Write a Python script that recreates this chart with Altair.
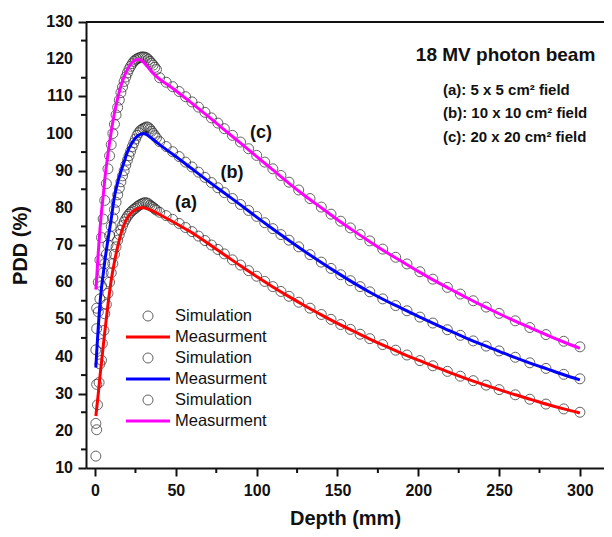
import altair as alt
import pandas as pd

# ---------------- data ----------------
series_keys = ["a", "b", "c"]
series_colors = ["#ff0000", "#0000ff", "#ff00ff"]

# Measurement curves
meas_depth_a = [0.5, 1, 2, 3, 4, 5, 6, 8, 10, 12, 14, 16, 18, 20, 22, 25, 28, 30, 32, 35, 40, 50, 60, 70, 80, 90, 100,
                110, 120, 130, 140, 150, 160, 170, 180, 190, 200, 210, 220, 230, 240, 250, 260, 270, 280, 290, 300]
meas_pdd_a = [24, 26, 30, 34.5, 38.5, 42.5, 46.5, 54, 60.5, 65.5, 69.5, 73, 75.5, 77.3, 78.5, 79.5, 80, 80, 79.8, 79.3,
              78.2, 75.8, 73.3, 70.4, 67.4, 64.4, 61.5, 58.7, 56.1, 53.6, 51.2, 48.9, 46.8, 44.7, 42.7, 40.8, 39.0,
              37.3, 35.6, 34.0, 32.5, 31.1, 29.7, 28.4, 27.1, 25.9, 24.8]

meas_depth_b = [0.5, 1, 2, 3, 4, 5, 6, 8, 10, 12, 14, 16, 18, 20, 22, 24, 26, 28, 30, 35, 40, 45, 50, 60, 70, 80, 90, 100,
                110, 120, 130, 140, 150, 160, 170, 180, 190, 200, 210, 220, 230, 240, 250, 260, 270, 280, 290, 300]
meas_pdd_b = [37, 41, 48, 54, 58.5, 62, 65.5, 71.5, 77, 83, 86.8, 89.8, 92.4, 95, 96.8, 98.2, 99.2, 99.8, 100, 98.7,
              97.0, 95.4, 93.8, 90.5, 87.2, 84.0, 80.8, 77.5, 74.3, 71.2, 68.2, 65.3, 62.5, 59.8, 57.3, 55.0, 52.9,
              50.8, 48.8, 46.8, 44.9, 43.1, 41.4, 39.7, 38.1, 36.6, 35.1, 33.7]

meas_depth_c = [0.5, 1, 2, 3, 4, 5, 6, 8, 10, 12, 14, 16, 18, 20, 22, 24, 26, 28, 30, 32, 35, 40, 45, 50, 60, 70, 80, 90,
                100, 110, 120, 130, 140, 150, 160, 170, 180, 190, 200, 210, 220, 230, 240, 250, 260, 270, 280, 290, 300]
meas_pdd_c = [58, 61, 68, 74, 79, 83, 87.5, 94.5, 100.5, 105.5, 109.5, 112.8, 115.3, 117.2, 118.6, 119.5, 119.9, 119.8,
              119.2, 118.2, 116.6, 114.6, 113.1, 111.5, 108.1, 104.6, 101.0, 97.4, 93.8, 90.2, 86.6, 83.2, 80.0, 76.8,
              73.8, 70.9, 68.1, 65.5, 62.9, 60.4, 58.1, 55.8, 53.6, 51.5, 49.5, 47.6, 45.7, 43.9, 42.2]

# Simulation points
tail_depth = [40, 44, 48, 52, 56, 60, 64, 68, 72, 76, 80, 85, 90, 95, 100, 105, 110, 115, 120, 126, 133, 140, 146, 152,
              158, 164, 170, 178, 186, 193, 201, 209, 218, 226, 234, 242, 250, 260, 269, 279, 290, 300]

sim_depth_a = [0.5, 0.5, 1, 1.5, 1, 2.5, 3, 4, 4.5, 5.5, 6, 7, 8, 9, 10, 11, 12, 13, 14, 15, 16, 17, 18, 19, 20, 21, 22,
               23, 24, 25, 26, 27, 28, 29, 30, 31, 32, 33, 34, 35, 36, 37, 38] + tail_depth
sim_pdd_a = [13.2, 22, 20.3, 27, 32.5, 33, 38, 39, 43.5, 47, 51.5, 54, 57, 60, 62.5, 65, 67.5, 69.5, 71.3, 72.8, 74,
             75.2, 76.2, 77, 77.7, 78.3, 78.8, 79.2, 79.6, 79.9, 80.3, 80.6, 80.9, 81.1, 81.3, 81.4, 81.3, 81.1, 80.7,
             80.4, 80.1, 79.7, 79.4,
             78.8, 77.9, 76.9, 75.8, 74.7, 73.6, 72.4, 71.2, 70.0, 68.8, 67.6, 66.0, 64.6, 63.1, 61.6, 60.2, 58.8,
             57.5, 56.2, 54.6, 53.0, 51.3, 50.0, 48.6, 47.3, 46.0, 44.8, 43.2, 41.7, 40.4, 38.9, 37.5, 36.0, 34.7,
             33.5, 32.3, 31.1, 29.7, 28.5, 27.2, 25.9, 25.0]

sim_depth_b = [0.5, 1, 2, 3, 4, 5, 6, 7, 8, 9, 10, 11, 12, 13, 14, 15, 16, 17, 18, 19, 20, 21, 22, 23, 24, 25, 26, 27,
               28, 29, 30, 31, 32, 33, 34, 35, 36, 37, 38] + tail_depth
sim_pdd_b = [41.8, 47.5, 52, 55.5, 59, 62.5, 65, 67.5, 70, 72.5, 75, 77.3, 79.5, 81.5, 83.5, 85.3, 87, 88.6, 90, 91.5,
             92.8, 94, 95.2, 96.4, 97.5, 98.5, 99.5, 100.2, 100.8, 101.1, 101.4, 101.6, 101.8, 101.6, 101.2, 100.6,
             100, 99.4, 98.8,
             97.8, 96.5, 95.1, 93.8, 92.3, 91.0, 89.6, 88.2, 86.8, 85.4, 84.1, 82.5, 80.9, 79.3, 77.7, 76.0, 74.4,
             72.8, 71.3, 69.5, 67.4, 65.4, 63.7, 62.0, 60.4, 58.8, 57.4, 55.5, 53.7, 52.3, 50.6, 49.0, 47.2, 45.7,
             44.2, 42.8, 41.5, 39.8, 38.3, 36.8, 35.2, 34.0]

sim_depth_c = [1, 2, 3, 4, 5, 6, 7, 8, 9, 10, 11, 12, 13, 14, 15, 16, 17, 18, 19, 20, 21, 22, 23, 24, 25, 26, 27, 28,
               29, 30, 31, 32, 33, 34, 35, 36, 37, 38] + tail_depth
sim_pdd_c = [53, 60, 66, 72, 77, 82, 86.5, 90.5, 94, 97, 100, 102.5, 105, 107, 109, 111, 112.5, 114, 115.2, 116.3,
             117.3, 118.1, 118.8, 119.4, 119.8, 120.1, 120.3, 120.5, 120.6, 120.6, 120.5, 120.3, 119.9, 119.4, 118.9,
             118.4, 117.8, 117.2,
             115.0, 113.8, 112.6, 111.3, 109.9, 108.5, 107.1, 105.7, 104.2, 102.8, 101.3, 99.5, 97.7, 95.9, 94.1,
             92.3, 90.5, 88.7, 86.9, 84.8, 82.5, 80.2, 78.3, 76.4, 74.6, 72.8, 71.1, 68.9, 66.7, 64.9, 62.8, 60.8,
             58.6, 56.8, 55.0, 53.3, 51.6, 49.6, 47.8, 45.9, 44.1, 42.6]

# Axis ticks
x_major_ticks = [0, 50, 100, 150, 200, 250, 300]
x_minor_ticks = [25, 75, 125, 175, 225, 275]
y_major_ticks = [10, 20, 30, 40, 50, 60, 70, 80, 90, 100, 110, 120, 130]
y_minor_ticks = [15, 25, 35, 45, 55, 65, 75, 85, 95, 105, 115, 125]

# Annotations
curve_tags = ["(a)", "(b)", "(c)"]
curve_tag_x = [56.3, 84.7, 102.7]
curve_tag_y = [81.3, 89.4, 100.1]

beam_title = "18 MV photon beam"
beam_title_x = 254
beam_title_y = 121.1
field_lines = ["(a): 5 x 5 cm\u00b2 field", "(b): 10 x 10 cm\u00b2 field", "(c): 20 x 20 cm\u00b2 field"]
field_x = [215.3, 215.3, 215.3]
field_y = [111.7, 105.5, 99.1]

legend_labels = ["Simulation", "Measurment", "Simulation", "Measurment", "Simulation", "Measurment"]
legend_kinds = ["sim", "line", "sim", "line", "sim", "line"]
legend_colors = ["#222222", "#ff0000", "#222222", "#0000ff", "#222222", "#ff00ff"]

# ---------------- frames ----------------
meas_df = pd.concat([
    pd.DataFrame({"depth": d, "pdd": p, "series": k})
    for d, p, k in [(meas_depth_a, meas_pdd_a, "a"), (meas_depth_b, meas_pdd_b, "b"), (meas_depth_c, meas_pdd_c, "c")]
], ignore_index=True)
sim_df = pd.concat([
    pd.DataFrame({"depth": d, "pdd": p, "series": k})
    for d, p, k in [(sim_depth_a, sim_pdd_a, "a"), (sim_depth_b, sim_pdd_b, "b"), (sim_depth_c, sim_pdd_c, "c")]
], ignore_index=True)
tags_df = pd.DataFrame({"depth": curve_tag_x, "pdd": curve_tag_y, "t": curve_tags})
title_df = pd.DataFrame({"depth": [beam_title_x], "pdd": [beam_title_y], "t": [beam_title]})
field_df = pd.DataFrame({"depth": field_x, "pdd": field_y, "t": field_lines})
xminor_df = pd.DataFrame({"depth": x_minor_ticks})
yminor_df = pd.DataFrame({"pdd": y_minor_ticks})
ylab_df = pd.DataFrame({"pdd": y_major_ticks, "t": [str(v) for v in y_major_ticks]})

FONT = "Liberation Sans"
W, H = 518, 446
xs = alt.Scale(domain=[-5.6, 314.9], nice=False, zero=False)
ys = alt.Scale(domain=[10, 130], nice=False, zero=False)

x_axis = alt.Axis(
    values=x_major_ticks, labelOverlap=False, tickSize=8,
    tickWidth=2, tickColor="#111", domainColor="#111", domainWidth=2,
    labelFont=FONT, labelFontWeight="bold", labelFontSize=16, labelColor="#111", labelPadding=6,
    titleFont=FONT, titleFontWeight="bold", titleFontSize=20, titleColor="#111", titlePadding=10,
    grid=False,
)
y_axis = alt.Axis(
    values=y_major_ticks, labels=False, tickSize=8,
    tickWidth=2, tickColor="#111", domainColor="#111", domainWidth=2,
    titleFont=FONT, titleFontWeight="bold", titleFontSize=20, titleColor="#111", titlePadding=47,
    grid=False,
)

color_scale = alt.Scale(domain=series_keys, range=series_colors)

sims = alt.Chart(sim_df).mark_point(shape="circle", filled=False, size=100, color="#222222",
                                    strokeWidth=1, clip=True).encode(
    x=alt.X("depth:Q", scale=xs, axis=x_axis, title="Depth (mm)"),
    y=alt.Y("pdd:Q", scale=ys, axis=y_axis, title="PDD (%)"),
)
lines = alt.Chart(meas_df).mark_line(strokeWidth=3, interpolate="monotone", clip=True).encode(
    x=alt.X("depth:Q", scale=xs),
    y=alt.Y("pdd:Q", scale=ys),
    color=alt.Color("series:N", scale=color_scale, legend=None),
)
tags = alt.Chart(tags_df).mark_text(font=FONT, fontWeight="bold", fontSize=18, color="#111").encode(
    x=alt.X("depth:Q", scale=xs), y=alt.Y("pdd:Q", scale=ys), text="t:N")
title_t = alt.Chart(title_df).mark_text(font=FONT, fontWeight="bold", fontSize=19, color="#111").encode(
    x=alt.X("depth:Q", scale=xs), y=alt.Y("pdd:Q", scale=ys), text="t:N")
fields = alt.Chart(field_df).mark_text(font=FONT, fontWeight="bold", fontSize=15, color="#111",
                                       align="left").encode(
    x=alt.X("depth:Q", scale=xs), y=alt.Y("pdd:Q", scale=ys), text="t:N")

# y tick labels, placed through the y scale
y_labels = alt.Chart(ylab_df).mark_text(font=FONT, fontWeight="bold", fontSize=16, color="#111",
                                        align="right", baseline="middle").encode(
    y=alt.Y("pdd:Q", scale=ys), x=alt.value(-13), text="t:N")

# minor ticks, placed through the same scales
x_minor = alt.Chart(xminor_df).mark_rule(color="#111", strokeWidth=2).encode(
    x=alt.X("depth:Q", scale=xs), y=alt.value(H), y2=alt.value(H + 5))
y_minor = alt.Chart(yminor_df).mark_rule(color="#111", strokeWidth=2).encode(
    y=alt.Y("pdd:Q", scale=ys), x=alt.value(-5), x2=alt.value(0))

top_frame = alt.Chart(pd.DataFrame({"k": [0]})).mark_rule(color="#111", strokeWidth=2).encode(
    x=alt.value(0), x2=alt.value(W), y=alt.value(0))

# manual legend (pixel layout inside plot area)
leg_layers = []
row0, row_step = 294, 21
for i, (lab, kind, col) in enumerate(zip(legend_labels, legend_kinds, legend_colors)):
    yy = row0 + i * row_step
    one = pd.DataFrame({"t": [lab]})
    if kind == "sim":
        leg_layers.append(alt.Chart(one).mark_point(shape="circle", filled=False, size=100, color=col,
                                                    strokeWidth=1).encode(x=alt.value(62), y=alt.value(yy)))
    else:
        leg_layers.append(alt.Chart(one).mark_rule(color=col, strokeWidth=3).encode(
            x=alt.value(40), x2=alt.value(84), y=alt.value(yy)))
    leg_layers.append(alt.Chart(one).mark_text(font=FONT, fontSize=16.5, color="#111", align="left",
                                               baseline="middle").encode(
        x=alt.value(89), y=alt.value(yy), text="t:N"))

chart = alt.layer(sims, lines, tags, title_t, fields, y_labels, x_minor, y_minor, top_frame,
                  *leg_layers).properties(
    width=W, height=H,
    autosize=alt.AutoSizeParams(type="none"),
    padding={"left": 78, "top": 14, "right": 0, "bottom": 68},
    background="white",
).configure_view(stroke=None)

chart.save("out.html", embed_options={"renderer": "svg", "actions": False})
